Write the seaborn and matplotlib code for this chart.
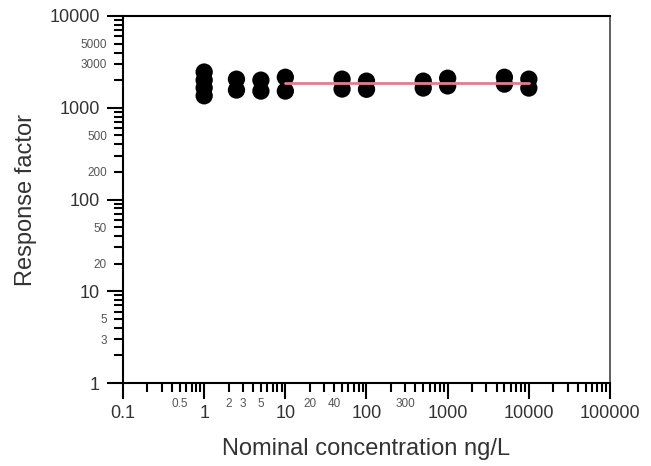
import numpy as np
import pandas as pd
import matplotlib
matplotlib.use('Agg')
import matplotlib.pyplot as plt
import seaborn as sns

# ---- data ----
conc = [1, 1, 1, 1, 2.5, 2.5, 5, 5, 10, 10, 50, 50, 100, 100,
        500, 500, 1000, 1000, 5000, 5000, 10000, 10000]
rf = [2450, 2000, 1650, 1350, 2050, 1560, 2000, 1520, 2150, 1520, 2050, 1600,
      1950, 1590, 1950, 1640, 2100, 1730, 2150, 1810, 2050, 1640]
mean_x = [10, 10000]
mean_rf = [1840, 1840]

x_major = [0.1, 1, 10, 100, 1000, 10000, 100000]
x_major_labels = ['0.1', '1', '10', '100', '1000', '10000', '100000']
x_minor_labeled = [0.5, 2, 3, 5, 20, 40, 300]
y_major = [1, 10, 100, 1000, 10000]
y_major_labels = ['1', '10', '100', '1000', '10000']
y_minor_labeled = [3, 5, 20, 50, 200, 500, 3000, 5000]

x_label = 'Nominal concentration ng/L'
y_label = 'Response factor'

# ---- style ----
sns.set_style('white')
plt.rcParams['font.family'] = ['Liberation Sans', 'DejaVu Sans']

fig = plt.figure(figsize=(6.51, 4.66), dpi=100)
W, H = 651, 466
ax = fig.add_axes([123 / W, 1 - 383 / H, (610 - 123) / W, (383 - 16) / H])

df = pd.DataFrame({'conc': conc, 'rf': rf})
sns.scatterplot(data=df, x='conc', y='rf', ax=ax, color='black', s=155,
                edgecolor='none', linewidth=0, zorder=3, legend=False)
line_df = pd.DataFrame({'x': mean_x, 'y': mean_rf})
sns.lineplot(data=line_df, x='x', y='y', ax=ax, color='#e47c8e', lw=2.0,
             zorder=4, legend=False)

ax.set_xscale('log')
ax.set_yscale('log')
ax.set_xlim(0.1, 100000)
ax.set_ylim(1, 10000)

# ticks
ax.set_xticks(x_major)
ax.set_xticklabels(x_major_labels)
xminor = [m * 10.0 ** e for e in range(-1, 5) for m in range(2, 10)]
ax.set_xticks(xminor, minor=True)
ax.set_xticklabels([('%g' % v) if any(abs(v - l) < 1e-9 for l in x_minor_labeled) else ''
                    for v in xminor], minor=True)

ax.set_yticks(y_major)
ax.set_yticklabels(y_major_labels)
yminor = [m * 10.0 ** e for e in range(0, 4) for m in range(2, 10)]
ax.set_yticks(yminor, minor=True)
ax.set_yticklabels([('%g' % v) if any(abs(v - l) < 1e-9 for l in y_minor_labeled) else ''
                    for v in yminor], minor=True)

ax.tick_params(axis='both', which='major', direction='out', length=11.5,
               width=1.5, color='black', labelcolor='#333333')
ax.tick_params(axis='both', which='minor', direction='out', length=6.5,
               width=1.5, color='black', labelcolor='#555555')
ax.tick_params(axis='x', which='major', labelsize=13, pad=4)
ax.tick_params(axis='x', which='minor', labelsize=8.5, pad=4)
ax.tick_params(axis='y', which='major', labelsize=13, pad=5)
ax.tick_params(axis='y', which='minor', labelsize=8.5, pad=5)
ax.tick_params(bottom=True, left=True, top=False, right=False, which='both')

for side in ['left', 'bottom', 'top', 'right']:
    ax.spines[side].set_visible(True)
    ax.spines[side].set_linewidth(1.5)
    ax.spines[side].set_color('black')
ax.spines['right'].set_color('#444444')
ax.spines['right'].set_linewidth(1.2)

ax.grid(False)
ax.set_xlabel(x_label, fontsize=17, color='#333333', labelpad=12)
ax.set_ylabel(y_label, fontsize=17, color='#333333', labelpad=9)

fig.savefig('out.png', dpi=100)
